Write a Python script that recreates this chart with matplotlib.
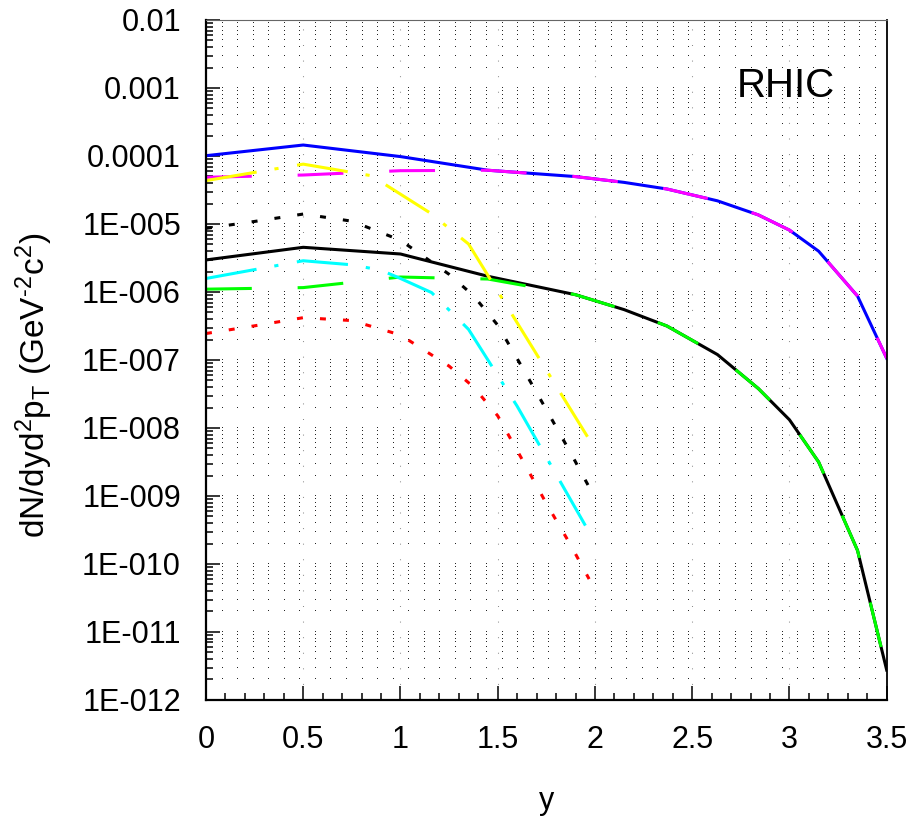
import numpy as np
import matplotlib
matplotlib.use("Agg")
import matplotlib.pyplot as plt
from matplotlib.ticker import FixedLocator, FixedFormatter

plt.rcParams['font.family'] = ['Liberation Sans', 'DejaVu Sans']
plt.rcParams['mathtext.fontset'] = 'custom'
plt.rcParams['mathtext.rm'] = 'Liberation Sans'
plt.rcParams['mathtext.default'] = 'regular'
plt.rcParams['lines.scale_dashes'] = False

# --- values ---
# long curves (total) and their overlapping components
y_long = [0, 0.5, 1.0, 1.45, 1.9, 2.15, 2.37, 2.63, 2.84, 3.0, 3.15, 3.35, 3.5]
blue_total = [1.01e-4, 1.45e-4, 9.8e-5, 6.17e-5, 4.98e-5, 4.09e-5, 3.27e-5,
              2.19e-5, 1.36e-5, 8.13e-6, 3.98e-6, 8.7e-7, 1.06e-7]
magenta = [4.86e-5, 5.25e-5, 6.08e-5, 6.17e-5, 4.98e-5, 4.09e-5, 3.27e-5,
           2.19e-5, 1.36e-5, 8.13e-6, 3.98e-6, 8.7e-7, 1.06e-7]
black_total = [2.96e-6, 4.54e-6, 3.62e-6, 1.70e-6, 9.12e-7, 5.5e-7, 3.16e-7,
               1.20e-7, 3.8e-8, 1.32e-8, 3.16e-9, 1.58e-10, 2.75e-12]
green = [1.10e-6, 1.16e-6, 1.66e-6, 1.55e-6, 9.12e-7, 5.5e-7, 3.16e-7,
         1.20e-7, 3.8e-8, 1.32e-8, 3.16e-9, 1.58e-10, 2.75e-12]

# short curves
y_yellow = [0, 0.5, 0.85, 1.15, 1.35, 1.97]
yellow = [4.34e-5, 7.59e-5, 5.13e-5, 1.47e-5, 5.08e-6, 6.8e-9]

y_cyan = [0, 0.5, 0.75, 0.9, 1.0, 1.16, 1.35, 1.6, 1.96]
cyan = [1.58e-6, 2.88e-6, 2.51e-6, 2.09e-6, 1.58e-6, 9.8e-7, 2.82e-7, 2.09e-8, 3.3e-10]

y_dotted = [0, 0.25, 0.5, 0.75, 1.0, 1.25, 1.375, 1.5, 1.625, 1.75, 1.875, 1.97]
black_dotted = [8.63e-6, 1.09e-5, 1.40e-5, 1.10e-5, 5.77e-6, 1.82e-6, 8.85e-7,
                3.25e-7, 7.87e-8, 1.86e-8, 4.3e-9, 1.35e-9]
red_dotted = [2.45e-7, 3.18e-7, 4.19e-7, 3.80e-7, 2.33e-7, 8.13e-8, 4.03e-8,
              1.51e-8, 3.47e-9, 7.76e-10, 1.9e-10, 6.0e-11]

x_ticks = [0, 0.5, 1, 1.5, 2, 2.5, 3, 3.5]
x_labels = ['0', '0.5', '1', '1.5', '2', '2.5', '3', '3.5']
y_ticks = [1e-2, 1e-3, 1e-4, 1e-5, 1e-6, 1e-7, 1e-8, 1e-9, 1e-10, 1e-11, 1e-12]
y_labels = ['0.01', '0.001', '0.0001', '1E-005', '1E-006', '1E-007', '1E-008',
            '1E-009', '1E-010', '1E-011', '1E-012']

fig = plt.figure(figsize=(9.13, 8.23), dpi=100)
ax = fig.add_axes([0.2256, 0.1495, 0.7456, 0.8262])
ax.set_yscale('log')
ax.set_xlim(0, 3.5)
ax.set_ylim(1e-12, 1e-2)

# dotted background grid
minor_levels = np.array([m * 10.0 ** k for k in range(-12, -2) for m in range(1, 10)] + [1e-2])
gx = np.arange(0.08, 3.5, 0.08)
GX, GY = np.meshgrid(gx, minor_levels)
ax.plot(GX.ravel(), GY.ravel(), ',', color='0.15', zorder=0)
for xv in x_ticks[1:-1]:
    ax.axvline(xv, color='0.55', lw=0.75, dashes=(0.72, 10.5), zorder=0)

lw = 2.2
ax.plot(y_long, blue_total, color='#0000ff', lw=lw)
ax.plot(y_long, magenta, color='#ff00ff', lw=lw, dashes=(33, 33))
ax.plot(y_long, black_total, color='black', lw=lw)
ax.plot(y_long, green, color='#00ff00', lw=lw, dashes=(33, 33))
ax.plot(y_yellow, yellow, color='#ffff00', lw=lw, dashes=(37, 13, 3, 13.5))
ax.plot(y_cyan, cyan, color='#00ffff', lw=lw, dashes=(37, 13, 3, 13.5))
ax.plot(y_dotted, black_dotted, color='black', lw=lw, dashes=(4.3, 12.3))
ax.plot(y_dotted, red_dotted, color='#ff0000', lw=lw, dashes=(4.3, 12.3))

ax.xaxis.set_major_locator(FixedLocator(x_ticks))
ax.xaxis.set_major_formatter(FixedFormatter(x_labels))
ax.xaxis.set_minor_locator(FixedLocator(np.arange(0, 3.51, 0.1)))
ax.yaxis.set_major_locator(FixedLocator(y_ticks))
ax.yaxis.set_major_formatter(FixedFormatter(y_labels))
ax.yaxis.set_minor_locator(FixedLocator(minor_levels))
ax.yaxis.set_minor_formatter(FixedFormatter([''] * len(minor_levels)))

ax.tick_params(which='both', direction='in', top=False, right=False,
               labelsize=22, width=1.1, colors='black')
ax.tick_params(which='major', length=10, pad=18)
ax.tick_params(which='minor', length=5)

for side in ['left', 'bottom']:
    ax.spines[side].set_linewidth(1.6)
ax.spines['right'].set_linewidth(1.3)
ax.spines['top'].set_linewidth(0.8)
ax.spines['top'].set_color('0.4')

ax.set_xlabel('y', fontsize=22, labelpad=22)
ax.set_ylabel('dN/dyd$^{2}$p$_{T}$ (GeV$^{\u2010 2}$c$^{2}$)', fontsize=24)
ax.yaxis.set_label_coords(-0.222, 0.462)

ax.text(0.78, 0.8868, 'RHIC', transform=ax.transAxes, fontsize=29,
        va='baseline', ha='left')

fig.savefig('out.png', dpi=100)
